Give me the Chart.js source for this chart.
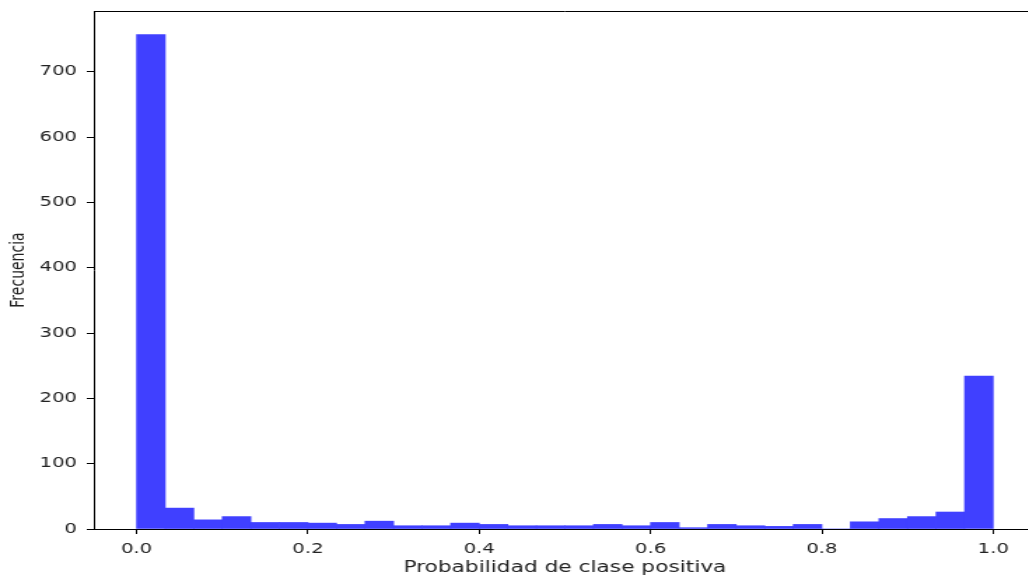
<!DOCTYPE html>
<html>
<head>
<meta charset="utf-8">
<script src="https://cdn.jsdelivr.net/npm/chart.js@4/dist/chart.umd.min.js"></script>
<style>
html,body{margin:0;padding:0;background:#fff;overflow:hidden;}
#wrap{width:1028px;height:578px;position:relative;overflow:hidden;}
#c{transform:scaleX(1.4);transform-origin:0 0;}
</style>
</head>
<body>
<div id="wrap"><canvas id="c" width="741" height="578"></canvas></div>
<script>
// 30 histogram bins over [0,1]
const binCount = 30;
const counts = [757, 32, 14, 19, 10, 10, 9, 7, 12, 5,
                5, 9, 7, 5, 5, 5, 7, 5, 10, 2,
                7, 5, 4, 7, 0, 11, 16, 19, 26, 234];
const xTicks = [0.0, 0.2, 0.4, 0.6, 0.8, 1.0];
const yTicks = [0, 100, 200, 300, 400, 500, 600, 700];
const xTitle = 'Probabilidad de clase positiva';
const yTitle = 'Frecuencia';

const points = counts.map((v, i) => ({x: (i + 0.5) / binCount, y: v}));

const frame = {
  id: 'frame',
  afterDraw(chart) {
    const a = chart.chartArea, ctx = chart.ctx;
    ctx.save();
    ctx.strokeStyle = '#000';
    ctx.lineWidth = 1;
    ctx.beginPath();
    ctx.moveTo(a.left, a.top + 0.5);
    ctx.lineTo(a.right, a.top + 0.5);
    ctx.lineTo(a.right, a.bottom);
    ctx.stroke();
    ctx.restore();
  }
};

new Chart(document.getElementById('c'), {
  type: 'bar',
  data: {
    datasets: [{
      data: points,
      backgroundColor: 'rgb(64,64,255)',
      borderWidth: 0,
      barPercentage: 1.0,
      categoryPercentage: 1.0,
      grouped: false
    }]
  },
  options: {
    responsive: false,
    animation: false,
    layout: {padding: {top: 11, right: 1, left: 0, bottom: 0}},
    plugins: {legend: {display: false}, tooltip: {enabled: false}},
    scales: {
      x: {
        type: 'linear',
        min: -0.05,
        max: 1.05,
        offset: false,
        afterBuildTicks: s => { s.ticks = xTicks.map(v => ({value: v})); },
        afterFit: s => { s.height = 49; s.paddingLeft = 0; s.paddingRight = 0; },
        ticks: {
          callback: v => Number(v).toFixed(1),
          color: '#222',
          font: {family: 'DejaVu Sans', size: 14},
          padding: 7,
          maxRotation: 0,
          autoSkip: false
        },
        grid: {offset: false, drawOnChartArea: false, drawTicks: true, tickLength: 5, color: '#000'},
        border: {display: true, color: '#000'},
        title: {
          display: true, text: xTitle, color: '#222',
          font: {family: 'DejaVu Sans', size: 15.5},
          padding: {top: 0, bottom: 1}
        }
      },
      y: {
        type: 'linear',
        min: 0,
        max: 793,
        afterBuildTicks: s => { s.ticks = yTicks.map(v => ({value: v})); },
        afterFit: s => { s.width = 67; s.paddingTop = 0; s.paddingBottom = 0; },
        ticks: {
          color: '#222',
          font: {family: 'DejaVu Sans', size: 14},
          padding: 7
        },
        grid: {drawOnChartArea: false, drawTicks: true, tickLength: 5, color: '#000'},
        border: {display: true, color: '#000'},
        title: {
          display: true, text: yTitle, color: '#222',
          font: {family: 'DejaVu Sans', size: 14},
          padding: {top: 5, bottom: 0}
        }
      }
    }
  },
  plugins: [frame]
});
</script>
</body>
</html>
